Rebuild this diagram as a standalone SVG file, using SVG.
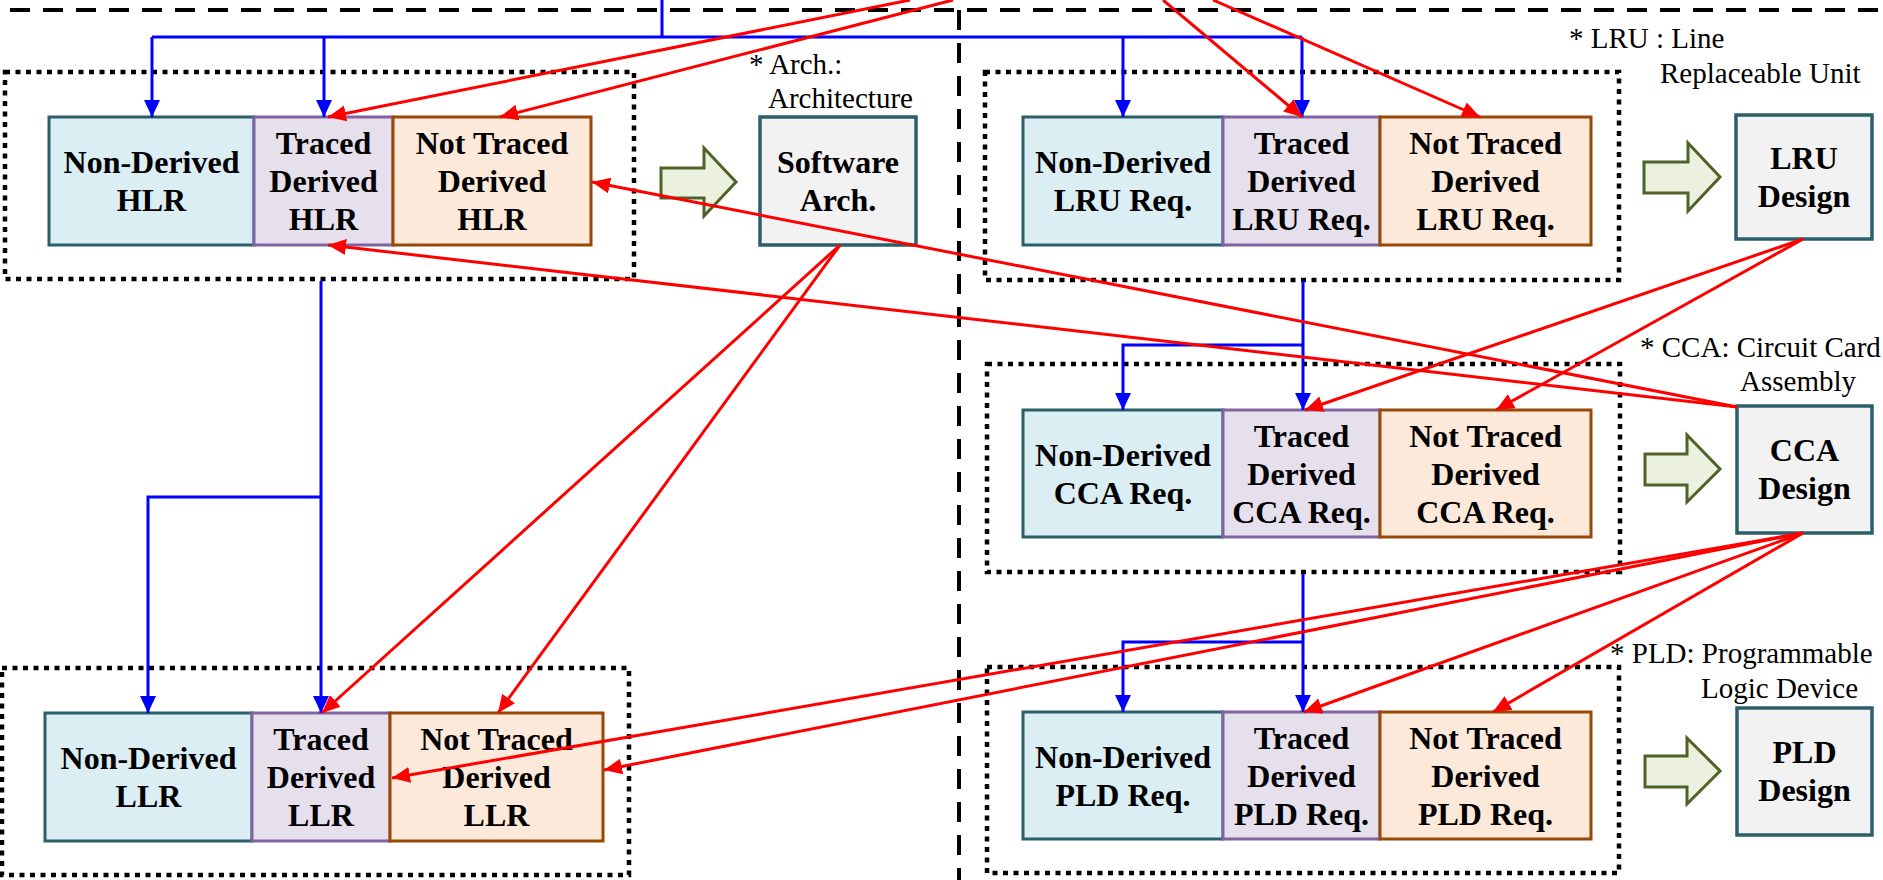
<svg xmlns="http://www.w3.org/2000/svg" width="1883" height="880" viewBox="0 0 1883 880">
<defs>
<style>
.bg{fill:#ffffff}
.nd{fill:#DAEEF3;stroke:#2B5F6B;stroke-width:3}
.tr{fill:#E5E0EC;stroke:#8064A2;stroke-width:3}
.nt{fill:#FDE9D9;stroke:#984807;stroke-width:3}
.ds{fill:#F2F2F2;stroke:#2B5F6B;stroke-width:3.5}
.ga{fill:#EBF1DE;stroke:#4F6228;stroke-width:3;stroke-linejoin:miter}
.dot{fill:none;stroke:#000;stroke-width:4.5;stroke-dasharray:5 5.5}
.dash{fill:none;stroke:#000;stroke-width:4;stroke-dasharray:20 13}
.b{fill:none;stroke:#0000FF;stroke-width:3}
.r{fill:none;stroke:#FF0000;stroke-width:3}
.t{font-family:"Liberation Serif","Times New Roman",serif;font-weight:bold;font-size:32px;fill:#000;text-anchor:middle}
.n{font-family:"Liberation Serif","Times New Roman",serif;font-size:29px;fill:#000}
</style>
<marker id="ab" markerUnits="userSpaceOnUse" markerWidth="18" markerHeight="18" refX="17" refY="8" orient="auto"><path d="M0,0 L17,8 L0,16 z" fill="#0000FF"/></marker>
<marker id="ar" markerUnits="userSpaceOnUse" markerWidth="19" markerHeight="18" refX="18" refY="8" orient="auto"><path d="M0,0 L18,8 L0,16 z" fill="#FF0000"/></marker>
</defs>
<rect class="bg" x="0" y="0" width="1883" height="880"/>

<g id="frames">
<path class="dash" d="M10,10 H1883"/>
<path class="dash" d="M959,10 V880"/>
<rect class="dot" x="5" y="72" width="629" height="207"/>
<rect class="dot" x="2" y="668" width="627" height="207"/>
<rect class="dot" x="985" y="72" width="634" height="208"/>
<rect class="dot" x="987" y="364" width="633" height="208"/>
<rect class="dot" x="987" y="667" width="632" height="206"/>
</g>

<g id="hlr">
<rect class="nd" x="49" y="117" width="205" height="128"/>
<rect class="tr" x="254" y="117" width="139" height="128"/>
<rect class="nt" x="393" y="117" width="198" height="128"/>
<text class="t" x="151.5" y="173">Non-Derived</text><text class="t" x="151.5" y="211">HLR</text>
<text class="t" x="323.5" y="154">Traced</text><text class="t" x="323.5" y="192">Derived</text><text class="t" x="323.5" y="230">HLR</text>
<text class="t" x="492" y="154">Not Traced</text><text class="t" x="492" y="192">Derived</text><text class="t" x="492" y="230">HLR</text>
</g>

<g id="llr">
<rect class="nd" x="45" y="713" width="207" height="128"/>
<rect class="tr" x="252" y="713" width="138" height="128"/>
<rect class="nt" x="390" y="713" width="213" height="128"/>
<text class="t" x="148.5" y="769">Non-Derived</text><text class="t" x="148.5" y="807">LLR</text>
<text class="t" x="321" y="750">Traced</text><text class="t" x="321" y="788">Derived</text><text class="t" x="321" y="826">LLR</text>
<text class="t" x="496.5" y="750">Not Traced</text><text class="t" x="496.5" y="788">Derived</text><text class="t" x="496.5" y="826">LLR</text>
</g>

<g id="swarch">
<path class="ga" d="M661,168 H704 V148 L736,182 L704,216 V198 H661 z"/>
<rect class="ds" x="760" y="117" width="156" height="128"/>
<text class="t" x="838" y="173">Software</text><text class="t" x="838" y="211">Arch.</text>
<text class="n" x="749" y="74">* Arch.:</text>
<text class="n" x="768" y="108">Architecture</text>
</g>

<g id="lru">
<rect class="nd" x="1023" y="117" width="200" height="128"/>
<rect class="tr" x="1223" y="117" width="157" height="128"/>
<rect class="nt" x="1380" y="117" width="211" height="128"/>
<text class="t" x="1123" y="173">Non-Derived</text><text class="t" x="1123" y="211">LRU Req.</text>
<text class="t" x="1301.5" y="154">Traced</text><text class="t" x="1301.5" y="192">Derived</text><text class="t" x="1301.5" y="230">LRU Req.</text>
<text class="t" x="1485.5" y="154">Not Traced</text><text class="t" x="1485.5" y="192">Derived</text><text class="t" x="1485.5" y="230">LRU Req.</text>
</g>

<g id="lrudesign">
<path class="ga" d="M1644,162 H1688 V143 L1720,177 L1688,211 V193 H1644 z"/>
<rect class="ds" x="1736" y="115" width="136" height="124"/>
<text class="t" x="1804" y="169">LRU</text><text class="t" x="1804" y="207">Design</text>
<text class="n" x="1569" y="48">* LRU : Line</text>
<text class="n" x="1660" y="83">Replaceable Unit</text>
</g>

<g id="cca">
<rect class="nd" x="1023" y="410" width="200" height="127"/>
<rect class="tr" x="1223" y="410" width="157" height="127"/>
<rect class="nt" x="1380" y="410" width="211" height="127"/>
<text class="t" x="1123" y="466">Non-Derived</text><text class="t" x="1123" y="504">CCA Req.</text>
<text class="t" x="1301.5" y="447">Traced</text><text class="t" x="1301.5" y="485">Derived</text><text class="t" x="1301.5" y="523">CCA Req.</text>
<text class="t" x="1485.5" y="447">Not Traced</text><text class="t" x="1485.5" y="485">Derived</text><text class="t" x="1485.5" y="523">CCA Req.</text>
</g>

<g id="ccadesign">
<path class="ga" d="M1645,454 H1687 V435 L1720,469 L1687,502 V485 H1645 z"/>
<rect class="ds" x="1737" y="406" width="135" height="127"/>
<text class="t" x="1804.5" y="461">CCA</text><text class="t" x="1804.5" y="499">Design</text>
<text class="n" x="1640" y="357">* CCA: Circuit Card</text>
<text class="n" x="1740" y="391">Assembly</text>
</g>

<g id="pld">
<rect class="nd" x="1023" y="712" width="200" height="127"/>
<rect class="tr" x="1223" y="712" width="157" height="127"/>
<rect class="nt" x="1380" y="712" width="211" height="127"/>
<text class="t" x="1123" y="768">Non-Derived</text><text class="t" x="1123" y="806">PLD Req.</text>
<text class="t" x="1301.5" y="749">Traced</text><text class="t" x="1301.5" y="787">Derived</text><text class="t" x="1301.5" y="825">PLD Req.</text>
<text class="t" x="1485.5" y="749">Not Traced</text><text class="t" x="1485.5" y="787">Derived</text><text class="t" x="1485.5" y="825">PLD Req.</text>
</g>

<g id="plddesign">
<path class="ga" d="M1645,756 H1687 V738 L1720,771 L1687,804 V787 H1645 z"/>
<rect class="ds" x="1737" y="708" width="135" height="127"/>
<text class="t" x="1804.5" y="763">PLD</text><text class="t" x="1804.5" y="801">Design</text>
<text class="n" x="1610" y="663">* PLD: Programmable</text>
<text class="n" x="1701" y="698">Logic Device</text>
</g>

<g id="connectors">
<path class="b" d="M662,0 V37"/>
<path class="b" d="M152,37 H1302"/>
<path class="b" d="M152,37 V117" marker-end="url(#ab)"/>
<path class="b" d="M324,37 V117" marker-end="url(#ab)"/>
<path class="b" d="M1123,37 V117" marker-end="url(#ab)"/>
<path class="b" d="M1302,37 V117" marker-end="url(#ab)"/>
<path class="b" d="M321,281 V713" marker-end="url(#ab)"/>
<path class="b" d="M321,497 H148 V713" marker-end="url(#ab)"/>
<path class="b" d="M1303,281 V410" marker-end="url(#ab)"/>
<path class="b" d="M1303,345 H1123 V410" marker-end="url(#ab)"/>
<path class="b" d="M1303,574 V712" marker-end="url(#ab)"/>
<path class="b" d="M1303,642 H1123 V712" marker-end="url(#ab)"/>

<path class="r" d="M910,0 L328,117" marker-end="url(#ar)"/>
<path class="r" d="M953,0 L500,117" marker-end="url(#ar)"/>
<path class="r" d="M1163,0 L1302,117" marker-end="url(#ar)"/>
<path class="r" d="M1213,0 L1480,117" marker-end="url(#ar)"/>
<path class="r" d="M1737,407 L592,182" marker-end="url(#ar)"/>
<path class="r" d="M1737,407 L328,245" marker-end="url(#ar)"/>
<path class="r" d="M840,245 L322,713" marker-end="url(#ar)"/>
<path class="r" d="M840,245 L498,713" marker-end="url(#ar)"/>
<path class="r" d="M1803,239 L1305,410" marker-end="url(#ar)"/>
<path class="r" d="M1803,239 L1496,410" marker-end="url(#ar)"/>
<path class="r" d="M1803,533 L392,778" marker-end="url(#ar)"/>
<path class="r" d="M1803,533 L604,770" marker-end="url(#ar)"/>
<path class="r" d="M1803,533 L1304,712" marker-end="url(#ar)"/>
<path class="r" d="M1803,533 L1493,712" marker-end="url(#ar)"/>
</g>
</svg>
